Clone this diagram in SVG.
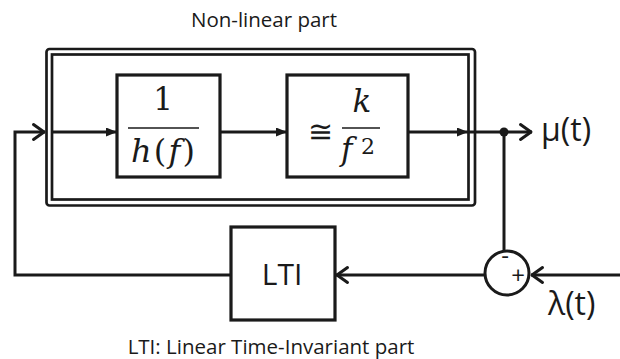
<svg xmlns="http://www.w3.org/2000/svg" width="620" height="359" viewBox="0 0 620 359">
<style>
.ln{fill:none;stroke:#1a1a1a;stroke-width:3}
.bx{fill:#fff;stroke:#1a1a1a;stroke-width:3.2}
.fr{fill:none;stroke:#1a1a1a;stroke-width:2.7}
.bar{stroke:#1a1a1a;stroke-width:1.6}
.t{font-family:"Open Sans","DejaVu Sans",sans-serif;fill:#1a1a1a}
.m{font-family:"DejaVu Serif","Liberation Serif",serif;fill:#1a1a1a}
.mi{font-style:italic}
</style>
<defs>
<marker id="fa" viewBox="0 0 11 9" refX="11" refY="4.5" markerWidth="11" markerHeight="9" markerUnits="userSpaceOnUse" orient="auto">
<path d="M0,0 L11,4.5 L0,9 z" fill="#1a1a1a"/>
</marker>
<marker id="ch" viewBox="0 0 16 20" refX="14" refY="10" markerWidth="16" markerHeight="20" markerUnits="userSpaceOnUse" orient="auto">
<path d="M2.5,2.5 L13,10 L2.5,17.5" fill="none" stroke="#1a1a1a" stroke-width="3" stroke-linecap="round" stroke-linejoin="round"/>
</marker>
</defs>

<text class="t" x="264" y="27" font-size="20.5" text-anchor="middle">Non-linear part</text>

<g id="nonlinear">
<rect class="fr" x="46.5" y="49" width="428.5" height="156.5" rx="3"/>
<rect class="fr" x="52" y="54.5" width="416.5" height="145"/>
</g>

<g id="connectors">
<path class="ln" d="M231,275 H15 V132 H45" marker-end="url(#ch)"/>
<path class="ln" d="M52,132 H117" marker-end="url(#fa)"/>
<path class="ln" d="M220,132 H287" marker-end="url(#fa)"/>
<path class="ln" d="M408,132 H468" marker-end="url(#fa)"/>
<path class="ln" d="M468,132 H532" marker-end="url(#ch)"/>
<path class="ln" d="M504,132 V251"/>
<circle cx="504" cy="132" r="4.5" fill="#1a1a1a"/>
<path class="ln" d="M620,275 H531" marker-end="url(#ch)"/>
<path class="ln" d="M485,275 H336" marker-end="url(#ch)"/>
</g>

<g id="inv">
<rect class="bx" x="117" y="75" width="103" height="102"/>
<text class="m" x="163" y="110" font-size="31" text-anchor="middle">1</text>
<line class="bar" x1="128" y1="128" x2="199" y2="128"/>
<text class="m" x="131" y="162" font-size="32" textLength="64" lengthAdjust="spacing"><tspan class="mi">h</tspan>(<tspan class="mi">f</tspan>)</text>
</g>

<g id="approx">
<rect class="bx" x="287" y="75" width="121" height="102"/>
<text class="m" x="320" y="142" font-size="30" text-anchor="middle">≅</text>
<line class="bar" x1="342" y1="128" x2="380" y2="128"/>
<text class="m mi" x="362" y="112" font-size="31" text-anchor="middle">k</text>
<text class="m mi" x="341" y="160" font-size="31">f</text>
<text class="m" x="361" y="154" font-size="22">2</text>
</g>

<g id="sum">
<circle cx="507" cy="273" r="22" fill="#fff" stroke="#1a1a1a" stroke-width="3"/>
<text class="t" x="505" y="264" font-size="24" text-anchor="middle">-</text>
<text class="t" x="518" y="284" font-size="24" text-anchor="middle">+</text>
</g>

<g id="lti">
<rect class="bx" x="231" y="227" width="104" height="93"/>
<text class="t" x="282" y="285" font-size="30" text-anchor="middle">LTI</text>
</g>

<text class="t" x="541" y="141" font-size="32">μ(t)</text>
<text class="t" x="548" y="315" font-size="32">λ(t)</text>
<text class="t" x="271" y="354" font-size="20.5" text-anchor="middle">LTI: Linear Time-Invariant part</text>
</svg>
